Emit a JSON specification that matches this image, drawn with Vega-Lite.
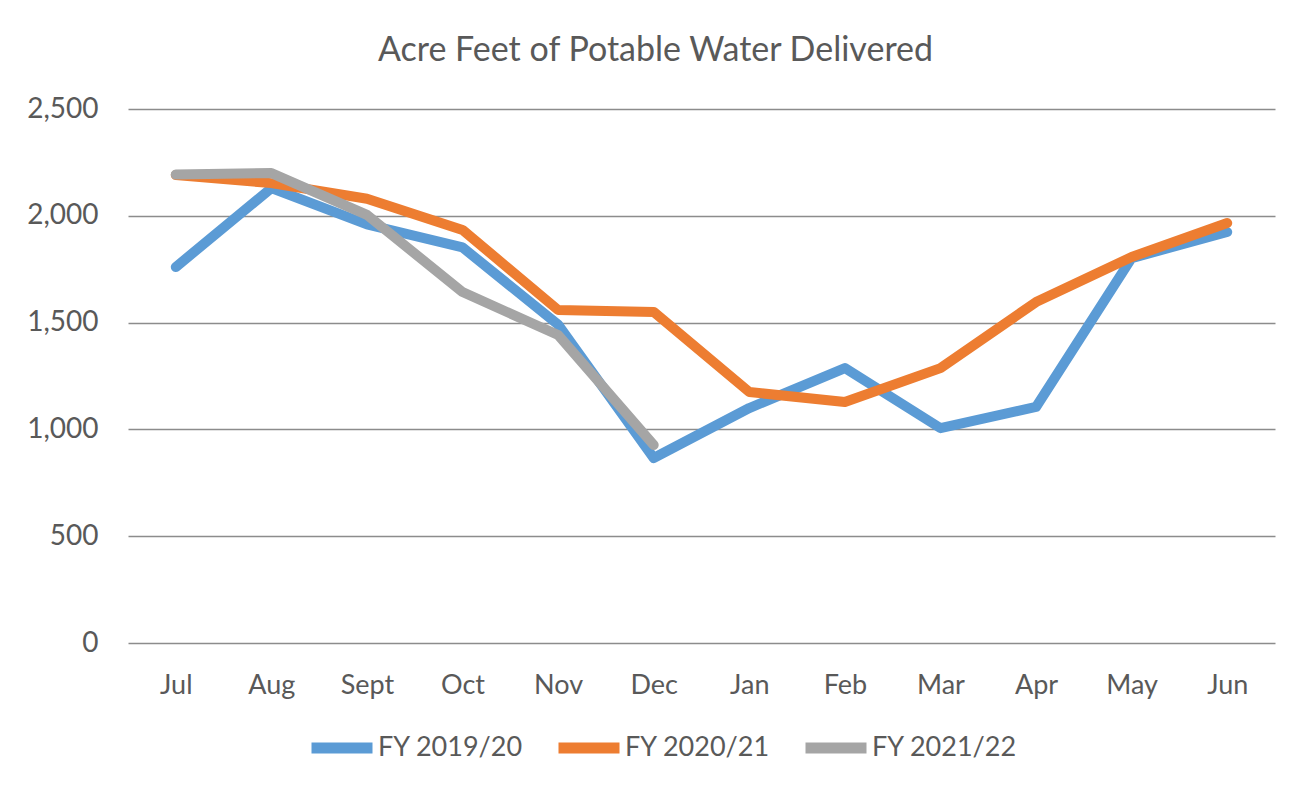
{
  "$schema": "https://vega.github.io/schema/vega-lite/v6.json",
  "autosize": {"type": "none"},
  "width": 1147,
  "height": 534,
  "padding": {"left": 128, "top": 109, "right": 16, "bottom": 144},
  "background": "white",
  "title": {
    "text": "Acre Feet of Potable Water Delivered",
    "font": "Lato",
    "fontSize": 34,
    "fontWeight": "normal",
    "color": "#595959",
    "anchor": "middle",
    "dx": -46,
    "offset": 27
  },
  "data": {
    "values": [
      {"month": "Jul", "fy": "FY 2019/20", "af": 1760},
      {"month": "Aug", "fy": "FY 2019/20", "af": 2130},
      {"month": "Sept", "fy": "FY 2019/20", "af": 1960},
      {"month": "Oct", "fy": "FY 2019/20", "af": 1852},
      {"month": "Nov", "fy": "FY 2019/20", "af": 1490},
      {"month": "Dec", "fy": "FY 2019/20", "af": 866},
      {"month": "Jan", "fy": "FY 2019/20", "af": 1100},
      {"month": "Feb", "fy": "FY 2019/20", "af": 1287},
      {"month": "Mar", "fy": "FY 2019/20", "af": 1006},
      {"month": "Apr", "fy": "FY 2019/20", "af": 1105},
      {"month": "May", "fy": "FY 2019/20", "af": 1802},
      {"month": "Jun", "fy": "FY 2019/20", "af": 1924},
      {"month": "Jul", "fy": "FY 2020/21", "af": 2191},
      {"month": "Aug", "fy": "FY 2020/21", "af": 2153},
      {"month": "Sept", "fy": "FY 2020/21", "af": 2080},
      {"month": "Oct", "fy": "FY 2020/21", "af": 1934},
      {"month": "Nov", "fy": "FY 2020/21", "af": 1559},
      {"month": "Dec", "fy": "FY 2020/21", "af": 1550},
      {"month": "Jan", "fy": "FY 2020/21", "af": 1175},
      {"month": "Feb", "fy": "FY 2020/21", "af": 1128},
      {"month": "Mar", "fy": "FY 2020/21", "af": 1287},
      {"month": "Apr", "fy": "FY 2020/21", "af": 1596},
      {"month": "May", "fy": "FY 2020/21", "af": 1807},
      {"month": "Jun", "fy": "FY 2020/21", "af": 1966},
      {"month": "Jul", "fy": "FY 2021/22", "af": 2193},
      {"month": "Aug", "fy": "FY 2021/22", "af": 2200},
      {"month": "Sept", "fy": "FY 2021/22", "af": 2004},
      {"month": "Oct", "fy": "FY 2021/22", "af": 1643},
      {"month": "Nov", "fy": "FY 2021/22", "af": 1442},
      {"month": "Dec", "fy": "FY 2021/22", "af": 927}
    ]
  },
  "mark": {"type": "line", "strokeWidth": 10, "strokeCap": "round", "strokeJoin": "round"},
  "encoding": {
    "x": {
      "field": "month",
      "type": "ordinal",
      "sort": ["Jul", "Aug", "Sept", "Oct", "Nov", "Dec", "Jan", "Feb", "Mar", "Apr", "May", "Jun"],
      "scale": {"type": "point", "padding": 0.5},
      "axis": {
        "title": null,
        "labelAngle": 0,
        "labelFont": "Lato",
        "labelFontSize": 27,
        "labelColor": "#595959",
        "labelPadding": 29,
        "ticks": false,
        "domain": false,
        "grid": false
      }
    },
    "y": {
      "field": "af",
      "type": "quantitative",
      "scale": {"domain": [0, 2500], "nice": false},
      "axis": {
        "title": null,
        "values": [0, 500, 1000, 1500, 2000, 2500],
        "format": ",d",
        "labelFont": "Lato",
        "labelFontSize": 28,
        "labelColor": "#595959",
        "labelPadding": 30,
        "ticks": false,
        "domain": false,
        "grid": true,
        "gridColor": "#8c8c8c",
        "gridWidth": 1.5
      }
    },
    "color": {
      "field": "fy",
      "type": "nominal",
      "scale": {
        "domain": ["FY 2019/20", "FY 2020/21", "FY 2021/22"],
        "range": ["#5b9bd5", "#ed7d31", "#a5a5a5"]
      },
      "legend": {
        "title": null,
        "orient": "none",
        "legendX": 178,
        "legendY": 603,
        "direction": "horizontal",
        "symbolType": "stroke",
        "symbolSize": 3721,
        "symbolStrokeWidth": 11,
        "labelFont": "Lato",
        "labelFontSize": 27,
        "labelColor": "#595959",
        "labelOffset": 0,
        "columnPadding": 12
      }
    }
  },
  "config": {
    "view": {"stroke": null}
  }
}
